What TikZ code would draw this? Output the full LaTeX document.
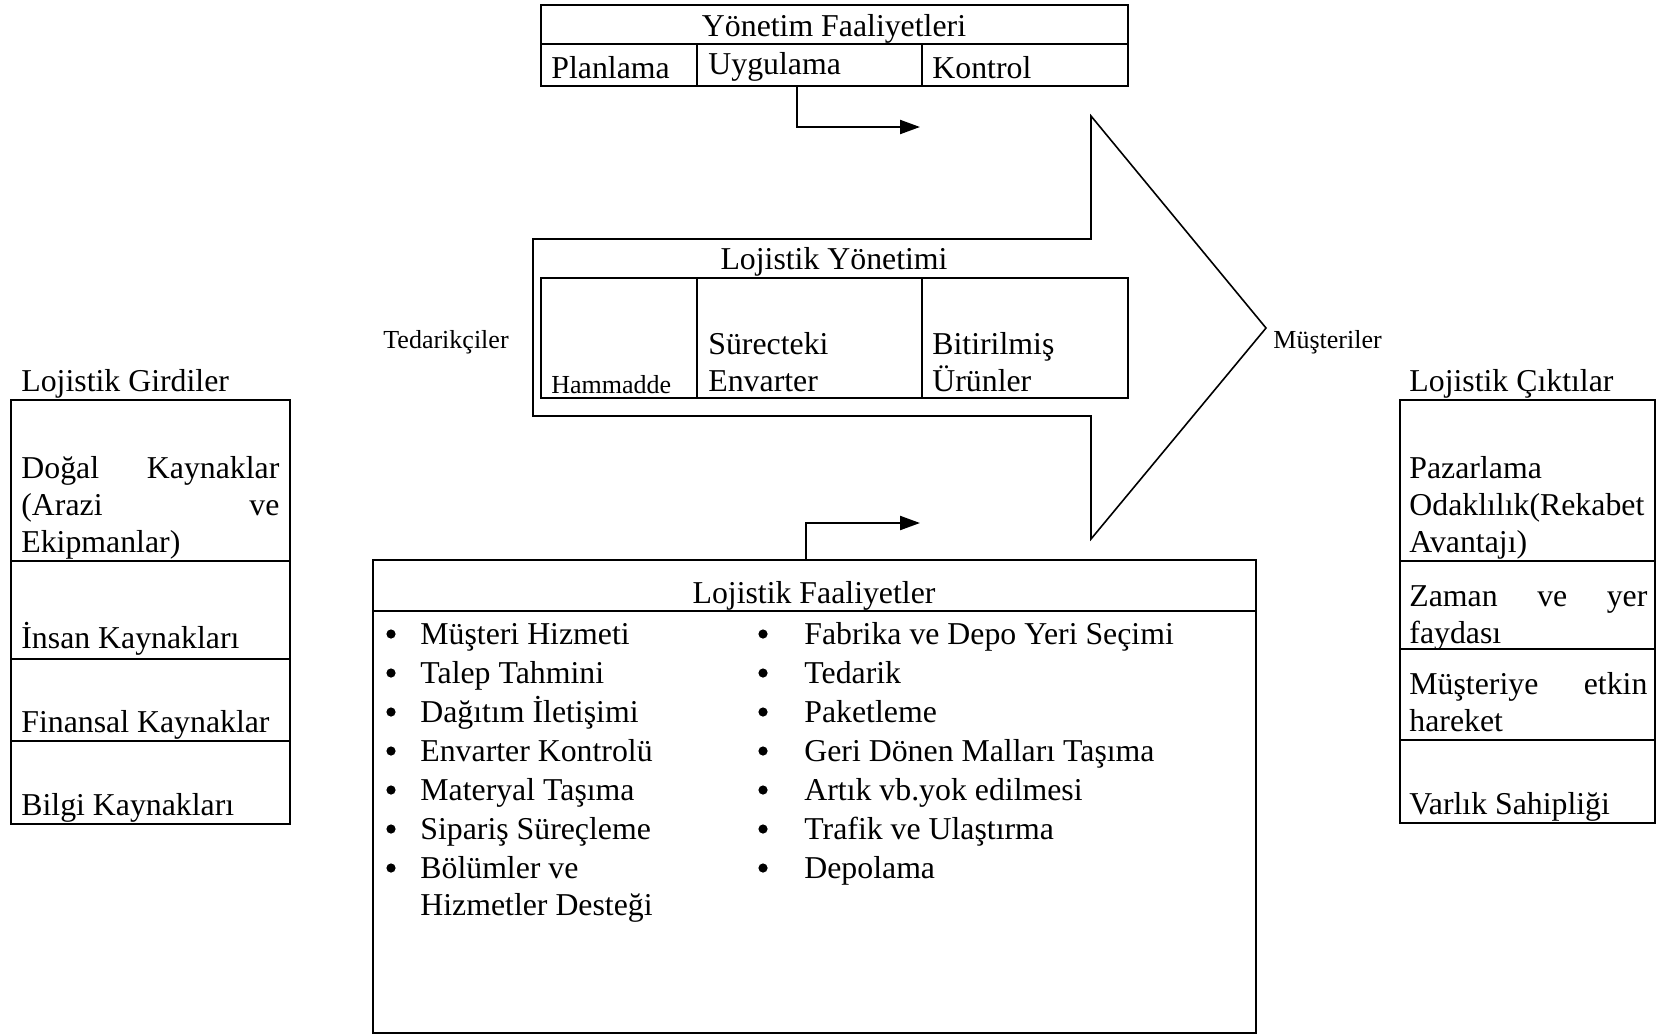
\documentclass[tikz,border=0pt]{standalone}
\usepackage{fontspec}
\setmainfont{Liberation Serif}
\usetikzlibrary{arrows.meta}
\begin{document}
\begin{tikzpicture}[x=0.5pt,y=-0.5pt,
  box/.style={line width=1.2pt},
  bigarrow/.style={line width=0.8pt, line join=miter},
  arr/.style={line width=1.1pt, -{Triangle[length=10pt,width=7pt]}},
  txt/.style={font=\fontsize{15.9pt}{18.5pt}\selectfont, inner sep=0pt, anchor=base west},
  ctr/.style={font=\fontsize{15.9pt}{18.5pt}\selectfont, inner sep=0pt, anchor=base},
  sml/.style={font=\fontsize{13pt}{15pt}\selectfont, inner sep=0pt, anchor=base west}]
\useasboundingbox (0,0) rectangle (1657,1035);

% ---------- big arrow shape ----------
\draw[bigarrow] (533,239) -- (1091,239) -- (1091,116) -- (1266,328) -- (1091,539) -- (1091,416) -- (533,416) -- cycle;

% ---------- Yonetim Faaliyetleri ----------
\draw[box] (541,5) rectangle (1128,86);
\draw[box] (541,44) -- (1128,44);
\draw[box] (697,44) -- (697,86);
\draw[box] (922,44) -- (922,86);
\node[ctr] (yf) at (834,36) {Yönetim Faaliyetleri};
\node[txt] (plan) at (551,78) {Planlama};
\node[txt] (uyg) at (708,74) {Uygulama};
\node[txt] (kont) at (932,78) {Kontrol};
\coordinate (uygS) at (797,86);
\coordinate (uygE) at (920,127);
\draw[arr] (uygS) |- (uygE);

% ---------- Lojistik Yonetimi ----------
\node[ctr] (ly) at (834,269) {Lojistik Yönetimi};
\draw[box] (541,278) rectangle (1128,398);
\draw[box] (697,278) -- (697,398);
\draw[box] (922,278) -- (922,398);
\node[sml] (ham) at (551,393) {Hammadde};
\node[txt] (sur1) at (708,354) {Sürecteki};
\node[txt] (sur2) at (708,391) {Envarter};
\node[txt] (bit1) at (932,354) {Bitirilmiş};
\node[txt] (bit2) at (932,391) {Ürünler};
\node[sml] (ted) at (383,348) {Tedarikçiler};
\node[sml] (mus) at (1273,348) {Müşteriler};

% ---------- Lojistik Girdiler ----------
\node[txt] (lg) at (21,391) {Lojistik Girdiler};
\draw[box] (11,400) rectangle (290,824);
\draw[box] (11,561) -- (290,561);
\draw[box] (11,659) -- (290,659);
\draw[box] (11,741) -- (290,741);
\node[txt] (g1a) at (21,478) {\makebox[129pt][s]{Doğal Kaynaklar}};
\node[txt] (g1b) at (21,515) {\makebox[129pt][s]{(Arazi ve}};
\node[txt] (g1c) at (21,552) {Ekipmanlar)};
\node[txt] (g2) at (21,648) {İnsan Kaynakları};
\node[txt] (g3) at (21,732) {Finansal Kaynaklar};
\node[txt] (g4) at (21,815) {Bilgi Kaynakları};

% ---------- Lojistik Ciktilar ----------
\node[txt] (lc) at (1409,391) {Lojistik Çıktılar};
\draw[box] (1400,400) rectangle (1655,823);
\draw[box] (1400,561) -- (1655,561);
\draw[box] (1400,649) -- (1655,649);
\draw[box] (1400,740) -- (1655,740);
\node[txt] (c1a) at (1409,478) {Pazarlama};
\node[txt] (c1b) at (1409,515) {Odaklılık(Rekabet};
\node[txt] (c1c) at (1409,552) {Avantajı)};
\node[txt] (c2a) at (1409,606) {\makebox[119pt][s]{Zaman ve yer}};
\node[txt] (c2b) at (1409,643) {faydası};
\node[txt] (c3a) at (1409,694) {\makebox[119pt][s]{Müşteriye etkin}};
\node[txt] (c3b) at (1409,731) {hareket};
\node[txt] (c4) at (1409,814) {Varlık Sahipliği};

% ---------- Lojistik Faaliyetler ----------
\draw[box] (373,560) rectangle (1256,1033);
\draw[box] (373,611) -- (1256,611);
\node[ctr] (lf) at (814,603) {Lojistik Faaliyetler};
\coordinate (lfS) at (806,560);
\coordinate (lfE) at (920,523);
\draw[arr] (lfS) |- (lfE);

\foreach \t [count=\i] in {Müşteri Hizmeti, Talep Tahmini, Dağıtım İletişimi, Envarter Kontrolü, Materyal Taşıma, Sipariş Süreçleme, Bölümler ve}{
  \pgfmathsetmacro{\yy}{644+39*(\i-1)}
  \fill (391,\yy-10) circle [radius=2.3pt];
  \node[txt] (L\i) at (420,\yy) {\t};
}
\node[txt] (L8) at (420,915) {Hizmetler Desteği};

\foreach \t [count=\i] in {Fabrika ve Depo Yeri Seçimi, Tedarik, Paketleme, Geri Dönen Malları Taşıma, Artık vb.yok edilmesi, Trafik ve Ulaştırma, Depolama}{
  \pgfmathsetmacro{\yy}{644+39*(\i-1)}
  \fill (763,\yy-10) circle [radius=2.3pt];
  \node[txt] (R\i) at (804,\yy) {\t};
}
\end{tikzpicture}
\end{document}
